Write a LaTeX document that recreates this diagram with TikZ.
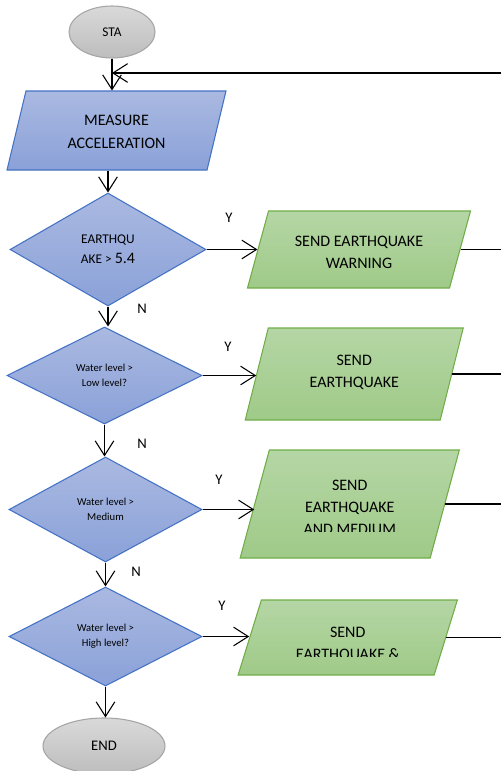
\documentclass[tikz,border=0pt]{standalone}
\usepackage{fontspec}
\setmainfont{Carlito}
\usetikzlibrary{shapes.geometric,arrows.meta}

\definecolor{blueedge}{HTML}{4472C4}
\definecolor{bluetop}{HTML}{AAB9E1}
\definecolor{bluebot}{HTML}{8AA1D8}
\definecolor{greenedge}{HTML}{70AD47}
\definecolor{greentop}{HTML}{B5D6A5}
\definecolor{greenbot}{HTML}{9FCA88}
\definecolor{grayedge}{HTML}{A5A5A5}
\definecolor{graytop}{HTML}{D9D9D9}
\definecolor{graybot}{HTML}{BDBDBD}

\tikzset{
  term/.style={ellipse, draw=grayedge, top color=graytop, bottom color=graybot, inner sep=0pt},
  io/.style={rectangle, draw=blueedge, top color=bluetop, bottom color=bluebot,
    inner sep=0pt, transform shape},
  iotext/.style={inner sep=0pt, align=center, font=\fontsize{12}{17}\selectfont},
  sendbox/.style={rectangle, draw=greenedge, top color=greentop, bottom color=greenbot,
    inner sep=0pt, transform shape},
  sendtext/.style={inner sep=0pt, align=center, font=\fontsize{12}{16.5}\selectfont},
  decision/.style={diamond, draw=blueedge, top color=bluetop, bottom color=bluebot,
    inner sep=0pt, align=center, font=\fontsize{8}{11.25}\selectfont},
  lbl/.style={font=\fontsize{11}{13}\selectfont},
  arr/.style={-{Straight Barb[length=11pt,width=14pt]}}
}

\begin{document}
\begin{tikzpicture}[x=0.75pt, y=-0.75pt, line width=0.8pt]
    \useasboundingbox (0,0) rectangle (501,771);
    \node[term, minimum width=64.5pt, minimum height=39pt, font=\fontsize{10}{12}\selectfont] (sta) at (112,32) {STA};
    \node[io, xslant=0.24, minimum width=150pt, minimum height=59.25pt] (m) at (116.5,130.5) {};
    \node[iotext] (mtxt) at (116.5,132) {MEASURE\\ACCELERATION};
    \node[decision, minimum width=147pt, minimum height=84.75pt, font=\fontsize{10}{15}\selectfont] (d1) at (108,249.5) {EARTHQU\\AKE > {\fontsize{12}{15}\selectfont 5.4}};
    \node[decision, minimum width=146.25pt, minimum height=72.75pt] (d2) at (104.5,375.5) {Water level >\\Low level?};
    \node[decision, minimum width=144.75pt, minimum height=78.75pt] (d3) at (105.5,509.5) {Water level >\\Medium};
    \node[decision, minimum width=144.75pt, minimum height=74.25pt] (d4) at (105.5,636.5) {Water level >\\High level?};
    \node[term, minimum width=91.5pt, minimum height=42pt, font=\fontsize{11}{13}\selectfont] (end) at (104,746) {END};

    \node[sendbox, xslant=0.273, minimum width=151.5pt, minimum height=57.75pt] (s1) at (359,249.5) {};
    \node[sendbox, xslant=0.25, minimum width=146.25pt, minimum height=69pt] (s2) at (354.25,374) {};
    \node[sendbox, xslant=0.27, minimum width=142.5pt, minimum height=81pt] (s3) at (349.75,504) {};
    \node[sendbox, xslant=0.31, minimum width=147pt, minimum height=56.25pt] (s4) at (347.75,637.5) {};
    \node[sendtext] (s1txt) at (359,252) {SEND EARTHQUAKE\\WARNING};
    \node[sendtext] (s2txt) at (354.25,372) {SEND\\EARTHQUAKE};
    % text that runs past the box is cut off
    \begin{scope}
      \clip (0,440) rectangle (501,531);
      \node[sendtext] (s3txt) at (349.75,507) {SEND\\EARTHQUAKE\\AND MEDIUM};
    \end{scope}
    \begin{scope}
      \clip (0,590) rectangle (501,656);
      \node[sendtext] (s4txt) at (347.75,644) {SEND\\EARTHQUAKE \&};
    \end{scope}

    \coordinate (edge) at (501,73);

    \draw[arr] (sta) -- (sta |- m.north);
    \draw[arr] (edge) -- (edge -| sta);
    \draw[arr] (d1.north |- m.south) -- (d1.north);
    \draw[arr] (d1.south) -- (d1.south |- d2.north);
    \draw[arr] (d2.south) -- (d2.south |- d3.north);
    \draw[arr] (d3.south) -- (d3.south |- d4.north);
    \draw[arr] (d4.south) -- (d4.south |- end.north);

    \draw[arr] (d1.east) -- (d1.east -| s1.west);
    \draw[arr] (d2.east) -- (d2.east -| s2.west);
    \draw[arr] (d3.east) -- (d3.east -| s3.west);
    \draw[arr] (d4.east) -- (d4.east -| s4.west);

    \draw (s1.east) -- (s1.east -| edge);
    \draw (s2.east) -- (s2.east -| edge);
    \draw (s3.east) -- (s3.east -| edge);
    \draw (s4.east) -- (s4.east -| edge);

    \node[lbl] (y1) at (229,218) {Y};
    \node[lbl] (n1) at (142,309) {N};
    \node[lbl] (y2) at (228,347) {Y};
    \node[lbl] (n2) at (142,444) {N};
    \node[lbl] (y3) at (219,480) {Y};
    \node[lbl] (n3) at (136,572) {N};
    \node[lbl] (y4) at (222,606) {Y};
  \end{tikzpicture}
\end{document}
